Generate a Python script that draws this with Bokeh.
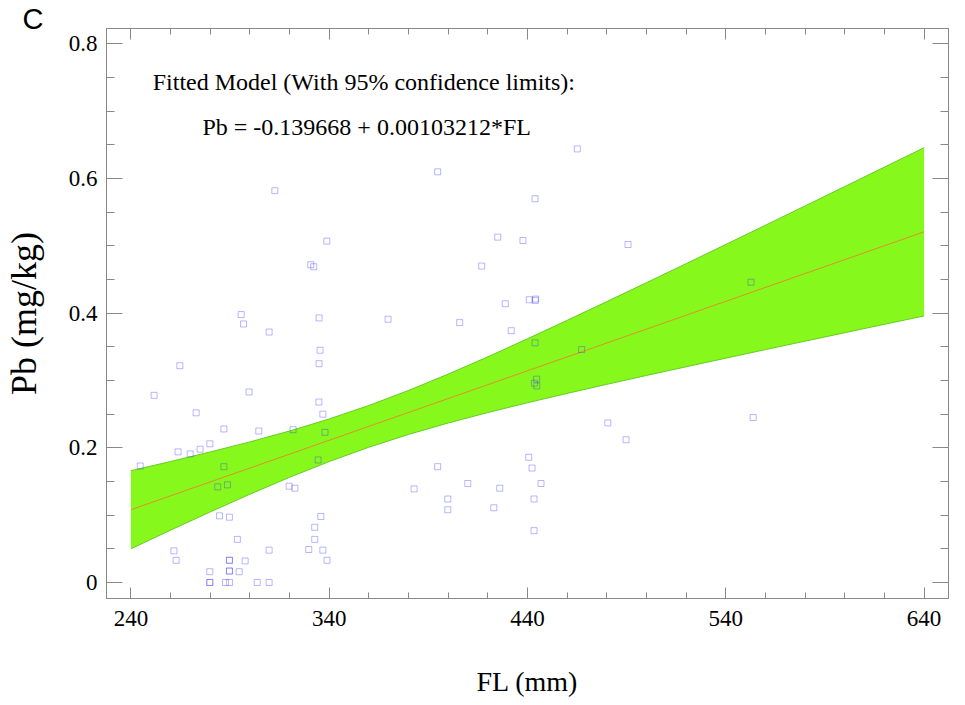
from bokeh.plotting import figure
from bokeh.models import LinearAxis, FixedTicker, Range1d, Label
from bokeh.embed import file_html
from bokeh.resources import INLINE

# ---- data ----
fl = [296.8, 309.7, 334.9, 335.4, 334.9, 264.7, 251.7, 299.6, 334.8, 336.8,
      272.9, 286.9, 304.5, 321.8, 337.9, 279.8, 274.9, 263.8, 269.9, 244.7,
      286.9, 334.4, 283.8, 288.7, 319.8, 322.7, 284.7, 289.7, 335.8, 332.7,
      293.7, 332.7, 261.7, 309.7, 329.7, 336.8, 262.8, 289.7, 289.7, 297.6,
      338.9, 279.8, 289.7, 289.7, 294.6, 279.8, 279.8, 287.7, 289.7, 303.7,
      309.7, 394.7, 443.8, 338.8, 425.0, 437.7, 416.9, 369.7, 405.8, 428.8,
      440.9, 443.9, 444.1, 431.8, 443.8, 444.6, 443.5, 444.7, 394.7, 440.6,
      442.3, 409.9, 446.8, 382.8, 426.0, 399.8, 443.3, 399.8, 423.0, 443.3,
      312.6, 330.7, 332.2, 295.6, 465.1, 490.7, 552.7, 467.3, 480.5, 553.8,
      489.7]
pb = [0.384, 0.372, 0.393, 0.345, 0.325, 0.322, 0.278, 0.283, 0.268, 0.250,
      0.252, 0.228, 0.225, 0.227, 0.223, 0.206, 0.198, 0.194, 0.191, 0.173,
      0.172, 0.182, 0.142, 0.145, 0.143, 0.140, 0.099, 0.097, 0.098, 0.082,
      0.064, 0.064, 0.047, 0.048, 0.049, 0.048, 0.033, 0.033, 0.033, 0.032,
      0.033, 0.016, 0.017, 0.017, 0.016, 0.0, 0.0, 0.0, 0.0, 0.0,
      0.0, 0.610, 0.570, 0.507, 0.513, 0.508, 0.470, 0.391, 0.386, 0.414,
      0.420, 0.419, 0.421, 0.374, 0.356, 0.302, 0.296, 0.292, 0.172, 0.186,
      0.170, 0.147, 0.147, 0.139, 0.140, 0.124, 0.124, 0.108, 0.111, 0.077,
      0.582, 0.472, 0.469, 0.398, 0.644, 0.502, 0.446, 0.346, 0.237, 0.245,
      0.212]

fit_intercept = -0.139668
fit_slope = 0.00103212
fit_fl = [240, 640]

band_fl = [240, 260, 280, 300, 320, 340, 360, 380, 400, 420, 440,
           460, 480, 500, 520, 540, 560, 580, 600, 620, 640]
band_upper = [0.1660, 0.1797, 0.1939, 0.2088, 0.2250, 0.2429, 0.2629, 0.2852,
              0.3095, 0.3352, 0.3620, 0.3894, 0.4172, 0.4453, 0.4736, 0.5021,
              0.5307, 0.5594, 0.5882, 0.6170, 0.6459]
band_lower = [0.0500, 0.0777, 0.1048, 0.1311, 0.1562, 0.1796, 0.2009, 0.2199,
              0.2369, 0.2524, 0.2670, 0.2809, 0.2943, 0.3075, 0.3204, 0.3332,
              0.3459, 0.3585, 0.3710, 0.3835, 0.3959]

x_ticks = [240, 340, 440, 540, 640]
x_minor = [220 + 20 * i for i in range(23)]
y_ticks = [0, 0.2, 0.4, 0.6, 0.8]
y_minor = [round(-0.05 + 0.05 * i, 2) for i in range(19)]

title_line1 = "Fitted Model (With 95% confidence limits):"
title_line2 = "Pb = -0.139668 + 0.00103212*FL"
panel_letter = "C"

SERIF = "Liberation Serif"
GRAY = "#888888"

p = figure(width=958, height=705, output_backend="svg", toolbar_location=None,
           x_range=Range1d(227.7, 652.3), y_range=Range1d(-0.0238, 0.8229),
           min_border_left=105, min_border_right=10, min_border_top=28,
           min_border_bottom=107)
p.background_fill_color = "white"
p.border_fill_color = "white"
p.outline_line_color = GRAY
p.xgrid.visible = False
p.ygrid.visible = False

p.title.text = panel_letter
p.title.text_font = "Liberation Sans"
p.title.text_font_size = "29px"
p.title.text_font_style = "normal"
p.title.text_color = "black"
p.title.align = "left"
p.title.offset = -84
p.title.standoff = -12


def style_axis(ax, ticks, minor, tin, minin, labels=True):
    ax.ticker = FixedTicker(ticks=ticks, minor_ticks=minor)
    ax.axis_line_color = GRAY
    ax.major_tick_line_color = GRAY
    ax.minor_tick_line_color = GRAY
    ax.major_tick_in = tin
    ax.major_tick_out = 0
    ax.minor_tick_in = minin
    ax.minor_tick_out = 0
    ax.major_label_text_font = SERIF
    ax.major_label_text_font_size = "23px"
    ax.major_label_text_color = "black"
    ax.axis_label_text_font = SERIF
    ax.axis_label_text_font_style = "normal"
    ax.axis_label_text_color = "black"
    if not labels:
        ax.major_label_overrides = {t: "" for t in ticks}
        ax.major_label_standoff = 0


xa = p.xaxis[0]
style_axis(xa, x_ticks, x_minor, 11, 6)
xa.axis_label = "FL (mm)"
xa.axis_label_text_font_size = "28px"
xa.major_label_standoff = 12
xa.axis_label_standoff = 37

ya = p.yaxis[0]
style_axis(ya, y_ticks, y_minor, 16, 8)
ya.axis_label = "Pb (mg/kg)"
ya.axis_label_text_font_size = "36px"
ya.major_label_standoff = 9
ya.axis_label_standoff = 22

top = LinearAxis()
style_axis(top, x_ticks, x_minor, 11, 6, labels=False)
p.add_layout(top, "above")
right = LinearAxis()
style_axis(right, y_ticks, y_minor, 16, 8, labels=False)
p.add_layout(right, "right")

# confidence band
p.varea(x=band_fl, y1=band_lower, y2=band_upper, fill_color="#86f81b", fill_alpha=1.0)
p.line(band_fl, band_upper, line_color="#66cc22", line_width=1)
p.line(band_fl, band_lower, line_color="#66cc22", line_width=1)

# fitted line
fit_pb = [fit_intercept + fit_slope * v for v in fit_fl]
p.line(fit_fl, fit_pb, line_color="#e0902a", line_width=1)

# observations
p.scatter(fl, pb, marker="square", size=6, fill_alpha=0,
          line_color="#3030ff", line_alpha=0.35, line_width=1)

p.add_layout(Label(x=251.0, y=0.7441, text=title_line1, text_font=SERIF,
                   text_font_size="24px", text_color="black",
                   text_baseline="alphabetic"))
p.add_layout(Label(x=276.1, y=0.6773, text=title_line2, text_font=SERIF,
                   text_font_size="24px", text_color="black",
                   text_baseline="alphabetic"))

open("out.html", "w").write(file_html(p, INLINE))
